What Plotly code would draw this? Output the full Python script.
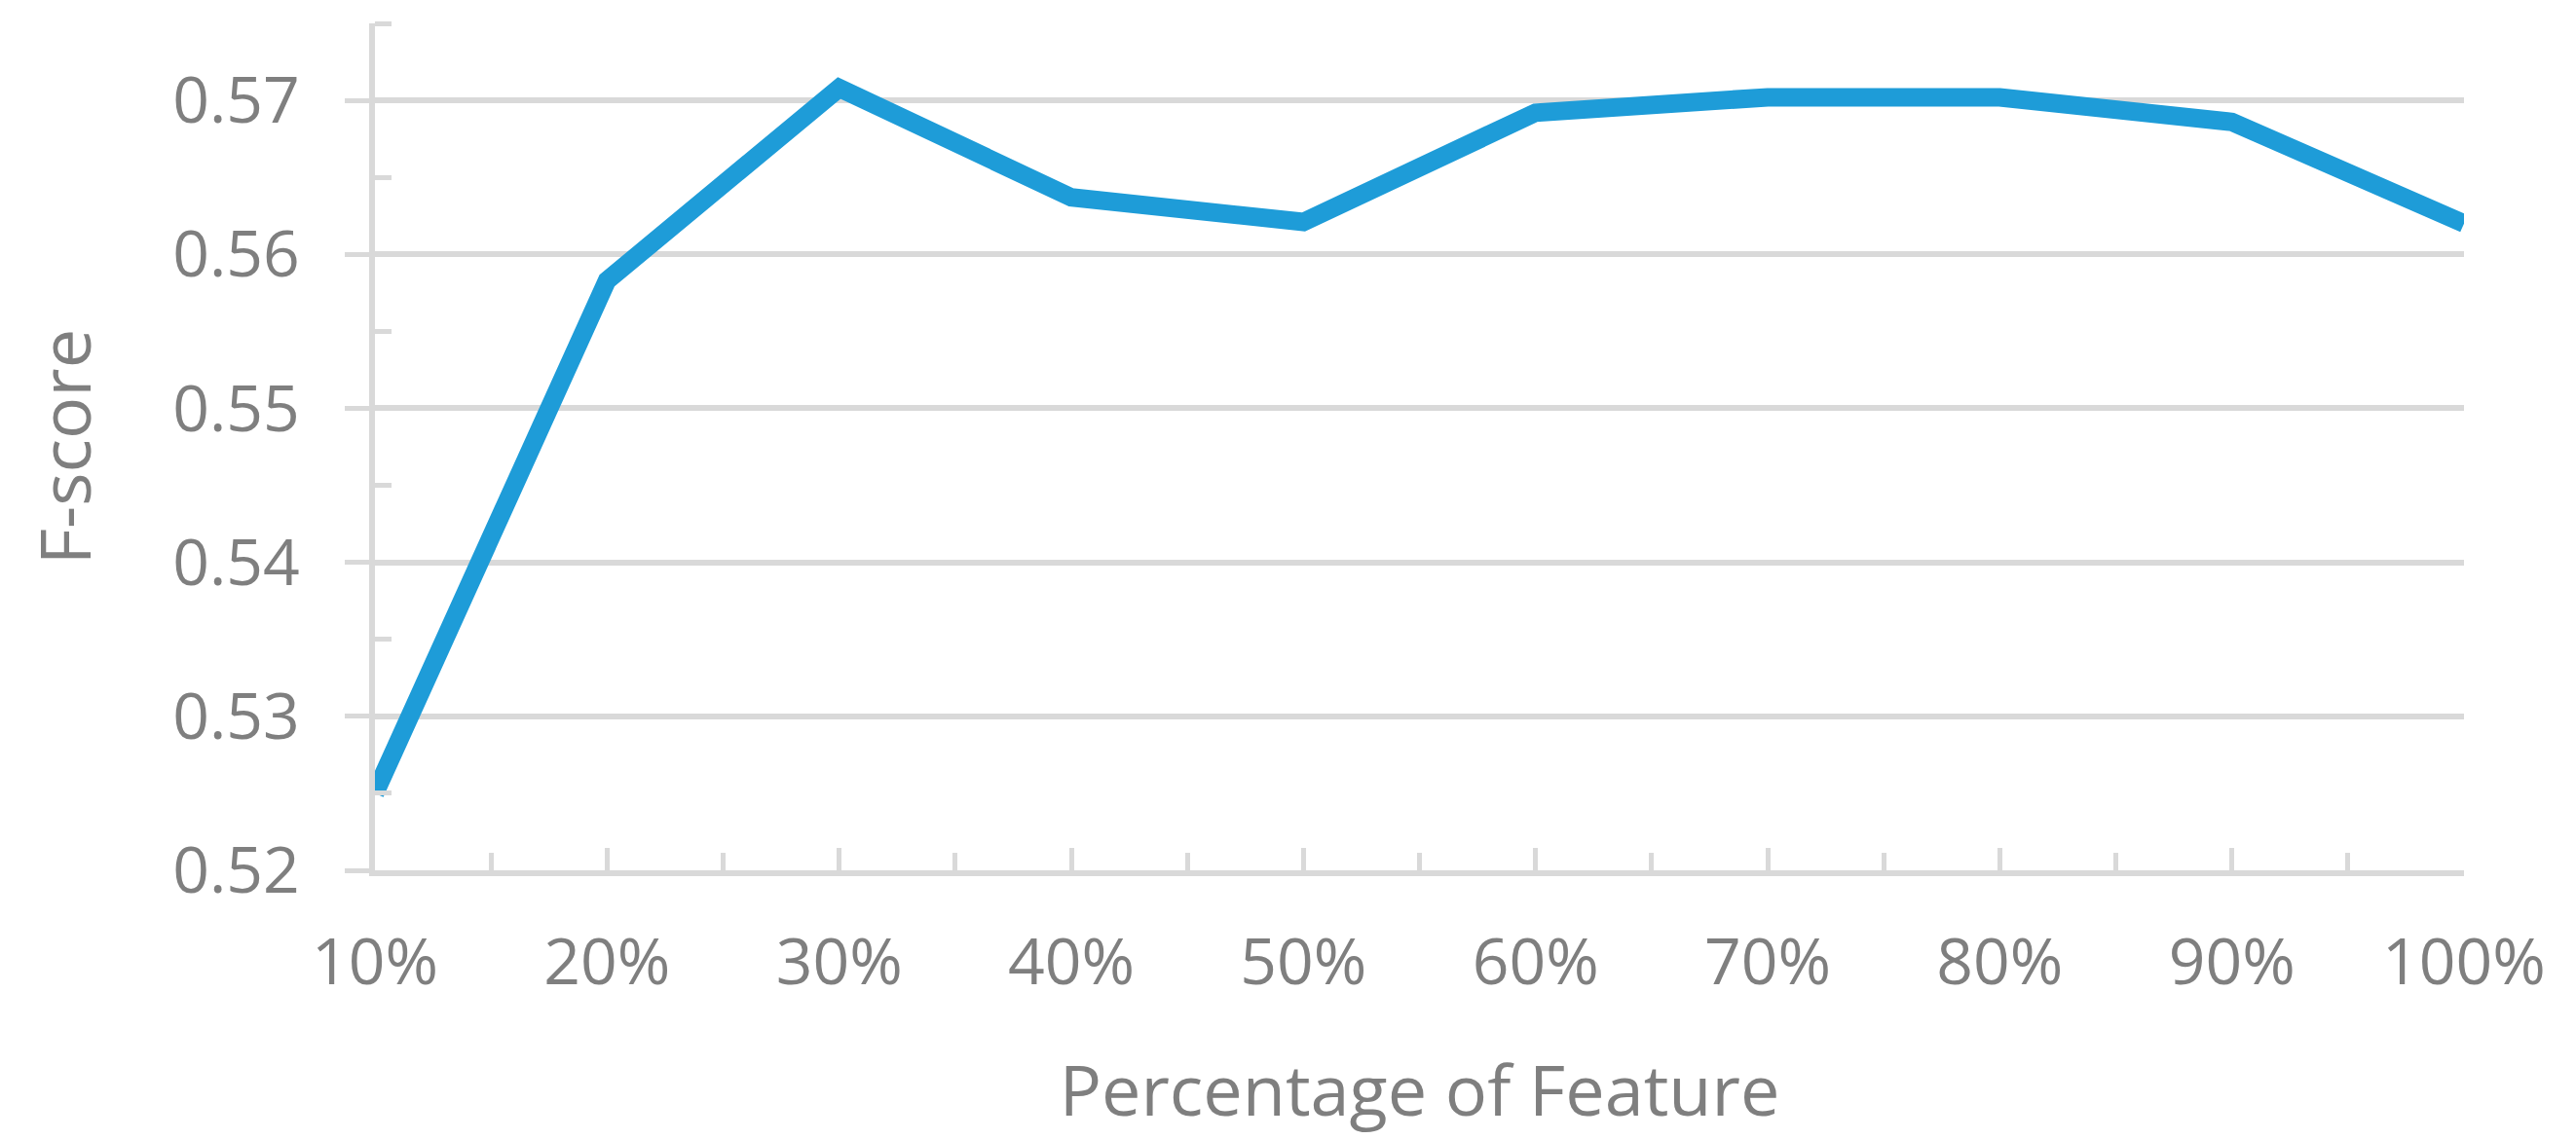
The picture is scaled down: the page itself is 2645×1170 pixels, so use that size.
import plotly.graph_objects as go

# Percentage of features kept vs. F-score
pct_feature = [10, 20, 30, 40, 50, 60, 70, 80, 90, 100]
pct_labels = ["10%", "20%", "30%", "40%", "50%", "60%", "70%", "80%", "90%", "100%"]
f_score = [0.5250, 0.5583, 0.5708, 0.5637, 0.5621, 0.5692, 0.5702, 0.5702, 0.5686, 0.5620]

grey = "#D9D9D9"
text_grey = "#7F7F7F"

fig = go.Figure()
fig.add_trace(go.Scatter(
    x=pct_feature,
    y=f_score,
    mode="lines",
    line=dict(color="#1E9CD8", width=19),
    showlegend=False,
))

# page body has an 8px margin, so the figure is 8px smaller than the window
fig.update_layout(
    width=2637,
    height=1162,
    margin=dict(l=377, r=115, t=16, b=276),
    plot_bgcolor="white",
    paper_bgcolor="white",
    font=dict(family="Open Sans, Noto Sans, sans-serif", color=text_grey),
)

fig.update_xaxes(
    range=[10, 100],
    tickmode="array",
    tickvals=pct_feature,
    ticktext=pct_labels,
    tickfont=dict(size=66, color=text_grey),
    showgrid=False,
    zeroline=False,
    showline=True,
    linecolor=grey,
    linewidth=6,
    ticks="inside",
    ticklen=23,
    tickwidth=5,
    tickcolor=grey,
    ticklabelstandoff=32,
    minor=dict(ticks="inside", ticklen=18, tickwidth=5, tickcolor=grey,
               tickmode="array", tickvals=[15, 25, 35, 45, 55, 65, 75, 85, 95]),
    title=dict(text="Percentage of Feature", font=dict(size=72, color=text_grey), standoff=68),
)

fig.update_yaxes(
    range=[0.52, 0.575],
    tick0=0.52,
    dtick=0.01,
    tickformat=".2f",
    tickfont=dict(size=66, color=text_grey),
    showgrid=True,
    gridcolor=grey,
    gridwidth=6,
    zeroline=False,
    showline=True,
    linecolor=grey,
    linewidth=6,
    ticks="outside",
    ticklen=25,
    tickwidth=5,
    tickcolor=grey,
    ticklabelstandoff=33,
    minor=dict(ticks="inside", ticklen=17, tickwidth=5, tickcolor=grey,
               dtick=0.01, tick0=0.525, showgrid=False),
    title=dict(text="F-score", font=dict(size=72, color=text_grey), standoff=62),
)

fig.write_html("out.html")
